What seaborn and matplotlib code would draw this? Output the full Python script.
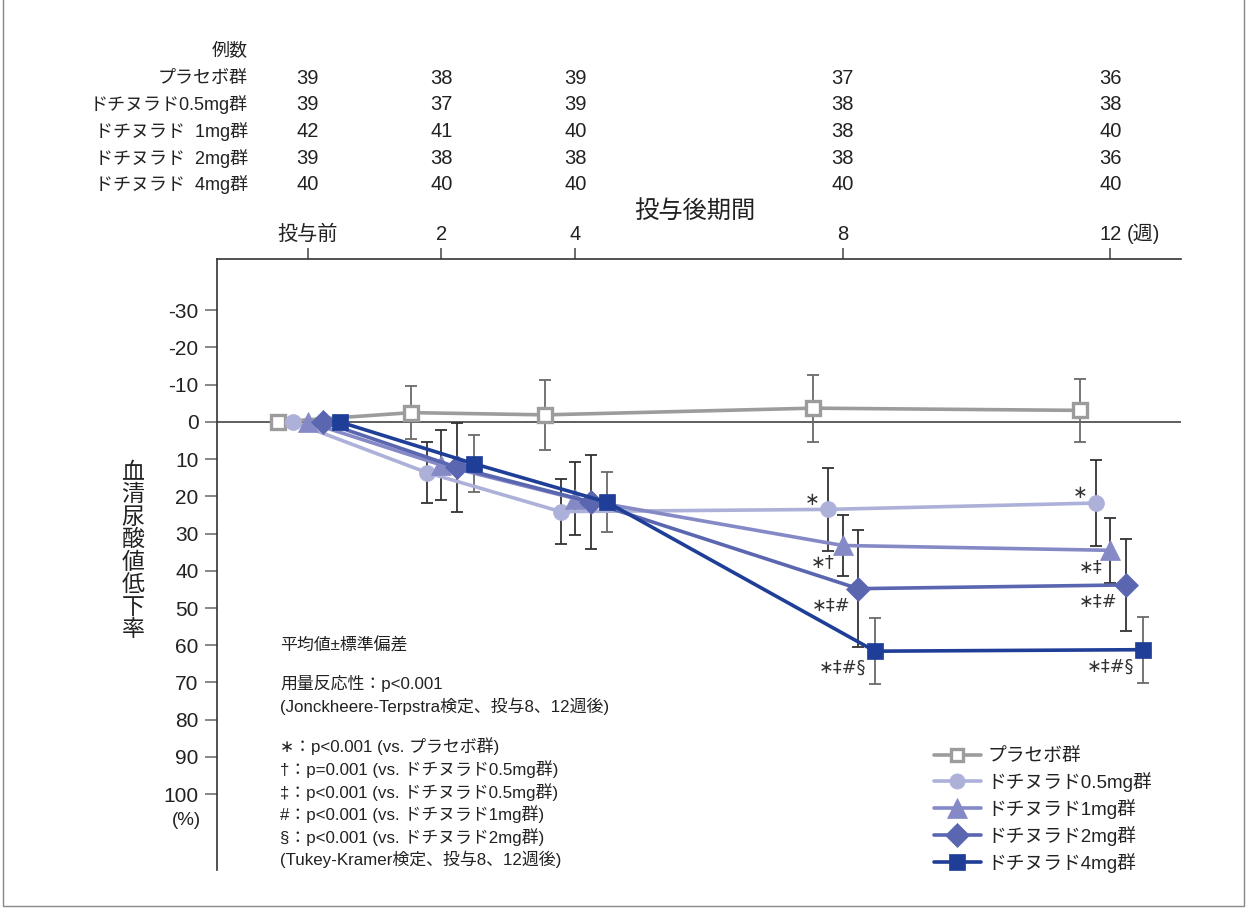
import numpy as np
import pandas as pd
import matplotlib
matplotlib.use("Agg")
import matplotlib.pyplot as plt
import matplotlib.transforms as mtransforms
from matplotlib.patches import Rectangle
import seaborn as sns

# ---------------- data ----------------
weeks = [0, 2, 4, 8, 12]
week_labels = ["投与前", "2", "4", "8", "12"]
groups = ["プラセボ群", "ドチヌラド0.5mg群", "ドチヌラド1mg群", "ドチヌラド2mg群", "ドチヌラド4mg群"]
table_labels = ["プラセボ群", "ドチヌラド0.5mg群", "ドチヌラド  1mg群", "ドチヌラド  2mg群", "ドチヌラド  4mg群"]

n_placebo = [39, 38, 39, 37, 36]
n_05 = [39, 37, 39, 38, 38]
n_1 = [42, 41, 40, 38, 40]
n_2 = [39, 38, 38, 38, 36]
n_4 = [40, 40, 40, 40, 40]

mean_placebo = [0, -2.5, -1.9, -3.7, -3.1]
sd_placebo = [0, 7.2, 9.4, 9.0, 8.4]
mean_05 = [0, 13.6, 24.1, 23.5, 21.8]
sd_05 = [0, 8.3, 8.7, 11.1, 11.6]
mean_1 = [0, 11.6, 20.6, 33.2, 34.5]
sd_1 = [0, 9.5, 9.8, 8.2, 8.8]
mean_2 = [0, 12.2, 21.5, 44.8, 43.8]
sd_2 = [0, 11.9, 12.6, 15.8, 12.3]
mean_4 = [0, 11.2, 21.6, 61.6, 61.2]
sd_4 = [0, 7.7, 8.1, 8.8, 8.9]

sig_wk8 = ["∗", "∗†", "∗‡#", "∗‡#§"]
sig_wk12 = ["∗", "∗‡", "∗‡#", "∗‡#§"]

means = [mean_placebo, mean_05, mean_1, mean_2, mean_4]
sds = [sd_placebo, sd_05, sd_1, sd_2, sd_4]
counts = [n_placebo, n_05, n_1, n_2, n_4]

# ---------------- style ----------------
offsets = [-0.45, -0.22, 0.0, 0.23, 0.48]
colors = ["#9c9c9c", "#adb1d9", "#8589c6", "#5b66b0", "#1f3e97"]
err_colors = ["#6a6a6a", "#333333", "#333333", "#333333", "#6a6a6a"]
markers = ["s", "o", "^", "D", "s"]
msizes = [9.5, 11.5, 14.5, 12.5, 11.5]
mfaces = ["white", None, None, None, None]

sns.set_style("white")
plt.rcParams["font.family"] = ["Liberation Sans", "Noto Sans CJK JP", "DejaVu Sans"]
txt_c = "#222222"

fig = plt.figure(figsize=(12.48, 9.15), dpi=100)
W, H = 1248, 915
ax = fig.add_axes([217.3 / W, 1 - 870 / H, (1180.7 - 217.3) / W, (870 - 259.3) / H])

rows = []
for g, m, off in zip(groups, means, offsets):
    for w, v in zip(weeks, m):
        rows.append({"group": g, "x": w + off, "value": v})
df = pd.DataFrame(rows)

handles = []
for i, g in enumerate(groups):
    sub = df[df["group"] == g]
    xs = sub["x"].to_numpy()
    sd = np.array(sds[i])
    mask = sd > 0
    ax.errorbar(xs[mask], sub["value"].to_numpy()[mask], yerr=sd[mask], fmt="none",
                ecolor=err_colors[i], elinewidth=1.3, capsize=4.2, capthick=1.3, zorder=2)
    kw = dict(color=colors[i], marker=markers[i], markersize=msizes[i], linewidth=2.6,
              markeredgecolor=colors[i], zorder=3 + i * 0.1)
    if mfaces[i]:
        kw.update(markerfacecolor=mfaces[i], markeredgewidth=2.4)
    else:
        kw.update(markerfacecolor=colors[i], markeredgewidth=0.5)
    sns.lineplot(data=sub, x="x", y="value", ax=ax, errorbar=None, **kw)
    handles.append(ax.lines[-1])

if ax.get_legend():
    ax.get_legend().remove()

# zero line
ax.axhline(0, color="#333333", lw=1.1, zorder=1)

ax.set_xlim(-1.351, 13.05)
ax.set_ylim(120.4, -43.7)
yt = list(range(-30, 101, 10))
ax.set_yticks(yt)
ax.set_yticklabels([str(v) for v in yt], fontsize=15, color=txt_c)
ax.xaxis.tick_top()
ax.set_xticks(weeks)
ax.set_xticklabels(week_labels, fontsize=14.5, color=txt_c)
ax.tick_params(axis="y", length=8.5, width=1.1, color="#666666", pad=5, left=True)
ax.tick_params(axis="x", length=8, width=1.1, color="#444444", pad=3, top=True, bottom=False)
ax.set_xlabel("")
ax.set_ylabel("")
for s in ["right", "bottom"]:
    ax.spines[s].set_visible(False)
for s in ["left", "top"]:
    ax.spines[s].set_color("#333333")
    ax.spines[s].set_linewidth(1.2)
ax.grid(False)

# (週) after 12
ax.annotate("(週)", xy=(12, 1), xycoords=("data", "axes fraction"), xytext=(11.5, 11),
            textcoords="offset points", ha="left", va="bottom", fontsize=14.5, color=txt_c)
# (%)
ax.annotate("(%)", xy=(0, 100), xycoords=("axes fraction", "data"), xytext=(-22, -19),
            textcoords="offset points", ha="center", va="center", fontsize=13.5, color=txt_c)

# y label stacked
fig.text(133 / W, 1 - 551 / H, "\n".join("血清尿酸値低下率"), ha="center", va="center",
         fontsize=16.5, linespacing=0.97, color=txt_c)

# x label
fig.text(695 / W, 1 - 212 / H, "投与後期間", ha="center", va="center", fontsize=17.5, color=txt_c)

# count table
trans = mtransforms.blended_transform_factory(ax.transData, fig.transFigure)
fig.text(248 / W, 1 - 51.7 / H, "例数", ha="right", va="center", fontsize=13, color=txt_c)
row_y = [78, 104.7, 131.4, 158.1, 184.8]
for lab, cnt, yy in zip(table_labels, counts, row_y):
    fig.text(248 / W, 1 - yy / H, lab, ha="right", va="center", fontsize=13, color=txt_c)
    for w, c in zip(weeks, cnt):
        ax.text(w, 1 - yy / H, str(c), transform=trans, ha="center", va="center",
                fontsize=14.5, color=txt_c)

# significance marks
for k in range(1, 5):
    for wi, marks in ((3, sig_wk8), (4, sig_wk12)):
        x = weeks[wi] + offsets[k]
        y = means[k][wi]
        dy = 7 if k == 1 else -12
        ax.annotate(marks[k - 1], xy=(x, y), xytext=(-6, dy), textcoords="offset points",
                    ha="right", va="center", fontsize=12.8, color="#333333", zorder=6,
                    family=["DejaVu Sans", "Noto Sans CJK JP"])

# notes
notes = [
    ("平均値±標準偏差", 645),
    ("用量反応性：p<0.001", 683),
    ("(Jonckheere-Terpstra検定、投与8、12週後)", 706),
    ("∗：p<0.001 (vs. プラセボ群)", 746),
    ("†：p=0.001 (vs. ドチヌラド0.5mg群)", 769),
    ("‡：p<0.001 (vs. ドチヌラド0.5mg群)", 792),
    ("#：p<0.001 (vs. ドチヌラド1mg群)", 814),
    ("§：p<0.001 (vs. ドチヌラド2mg群)", 837),
    ("(Tukey-Kramer検定、投与8、12週後)", 859),
]
for t, yy in notes:
    fig.text(280 / W, 1 - yy / H, t, ha="left", va="center", fontsize=12.2, color=txt_c)

# legend
leg = fig.legend(handles, groups, loc="upper left", bbox_to_anchor=(934 / W, 1 - 748 / H),
                 frameon=False, fontsize=13.5, handlelength=2.5, handletextpad=0.35,
                 labelspacing=0.37, borderpad=0, borderaxespad=0, markerscale=0.95)
for t in leg.get_texts():
    t.set_color(txt_c)

# frame
fig.add_artist(Rectangle((3 / W, 9 / H), (1244 - 3) / W, 1.0, transform=fig.transFigure,
                         fill=False, edgecolor="#888888", lw=1.0))

fig.savefig("out.png", dpi=100)
